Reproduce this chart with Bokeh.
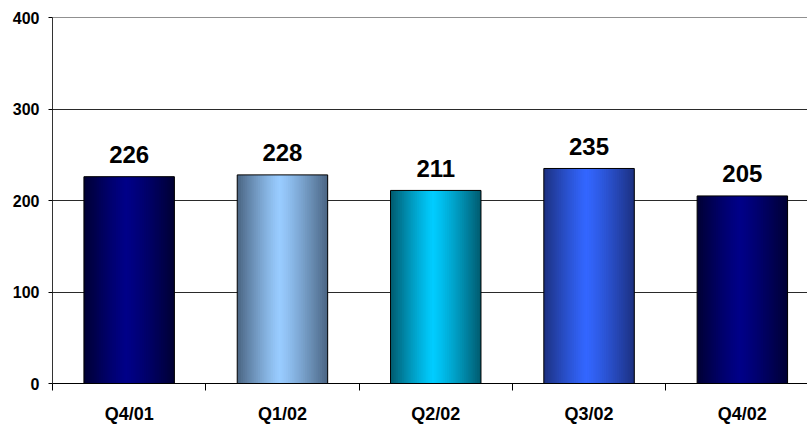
import numpy as np
from bokeh.plotting import figure
from bokeh.models import Range1d, FixedTicker, Span
from bokeh.core.properties import value
from bokeh.embed import file_html
from bokeh.resources import INLINE

# ---- data ----
categories = ["Q4/01", "Q1/02", "Q2/02", "Q3/02", "Q4/02"]
values = [226, 228, 211, 235, 205]
y_ticks = [0, 100, 200, 300, 400]

# ---- styles ----
edge_colors = ["#000033", "#4a6482", "#005a6e", "#1c3080", "#000033"]
center_colors = ["#000088", "#99ccff", "#00ccff", "#3366ff", "#000088"]
BAR_W = 0.59
N_STRIPES = 48
FONT = "Liberation Sans"

centers = [i + 0.5 for i in range(len(categories))]
boundaries = [float(i) for i in range(len(categories) + 1)]


def hex2rgb(h):
    h = h.lstrip("#")
    return np.array([int(h[i:i + 2], 16) for i in (0, 2, 4)], dtype=float)


def rgb2hex(c):
    c = np.clip(np.round(c), 0, 255).astype(int)
    return "#%02x%02x%02x" % tuple(c)


# gradient stripes derived from bar position/width (each overlaps the next)
sl, sr, st, sc = [], [], [], []
for xc, v, ec, cc in zip(centers, values, edge_colors, center_colors):
    e, c = hex2rgb(ec), hex2rgb(cc)
    left0 = xc - BAR_W / 2
    right0 = xc + BAR_W / 2
    dw = BAR_W / N_STRIPES
    for k in range(N_STRIPES):
        t = (k + 0.5) / N_STRIPES
        mid = 0.47
        d = abs(t - mid) / (mid if t < mid else 1 - mid)
        mix = 1 - d ** 1.2
        sl.append(left0 + k * dw)
        sr.append(min(left0 + (k + 2) * dw, right0))
        st.append(v)
        sc.append(rgb2hex(e + (c - e) * mix))

p = figure(width=807, height=426, output_backend="svg", toolbar_location=None,
           x_range=Range1d(0, 4.925), y_range=Range1d(0, 400),
           min_border_left=52, min_border_right=0, min_border_top=17,
           min_border_bottom=43)
p.outline_line_color = None
p.background_fill_color = "white"
p.border_fill_color = "white"

p.xgrid.visible = False
p.ygrid.ticker = FixedTicker(ticks=y_ticks)
p.ygrid.grid_line_color = "#2a2a2a"
p.ygrid.grid_line_width = 1

p.add_layout(Span(location=y_ticks[-1], dimension="width",
                  line_color="#222222", line_width=1))

p.quad(left=sl, right=sr, top=st, bottom=0, fill_color=sc, line_color=None)
p.vbar(x=centers, width=BAR_W, top=values, bottom=0, fill_color=None,
       line_color="#000000", line_width=1)

p.text(x=centers, y=values, text=[str(v) for v in values],
       text_align="center", text_baseline="alphabetic", y_offset=-22,
       text_font=value(FONT), text_font_style="bold", text_font_size="24px",
       text_color="#000000")

# x axis: labels at centers, tick marks at category boundaries
xa = p.xaxis[0]
xa.ticker = FixedTicker(ticks=centers, minor_ticks=boundaries)
xa.major_label_overrides = {c: lab for c, lab in zip(centers, categories)}
xa.major_tick_line_color = None
xa.major_tick_out = 0
xa.major_tick_in = 0
xa.minor_tick_line_color = "#000000"
xa.minor_tick_out = 7
xa.minor_tick_in = 0
xa.axis_line_color = "#000000"
xa.major_label_standoff = 13
xa.major_label_text_font = FONT
xa.major_label_text_font_style = "bold"
xa.major_label_text_font_size = "18px"
xa.major_label_text_color = "#000000"

ya = p.yaxis[0]
ya.ticker = FixedTicker(ticks=y_ticks, minor_ticks=[])
ya.major_tick_out = 4
ya.major_tick_in = 0
ya.major_tick_line_color = "#000000"
ya.minor_tick_line_color = None
ya.axis_line_color = "#333333"
ya.major_label_standoff = 9
ya.major_label_text_font = FONT
ya.major_label_text_font_style = "bold"
ya.major_label_text_font_size = "16px"
ya.major_label_text_color = "#000000"

open("out.html", "w").write(file_html(p, INLINE))
